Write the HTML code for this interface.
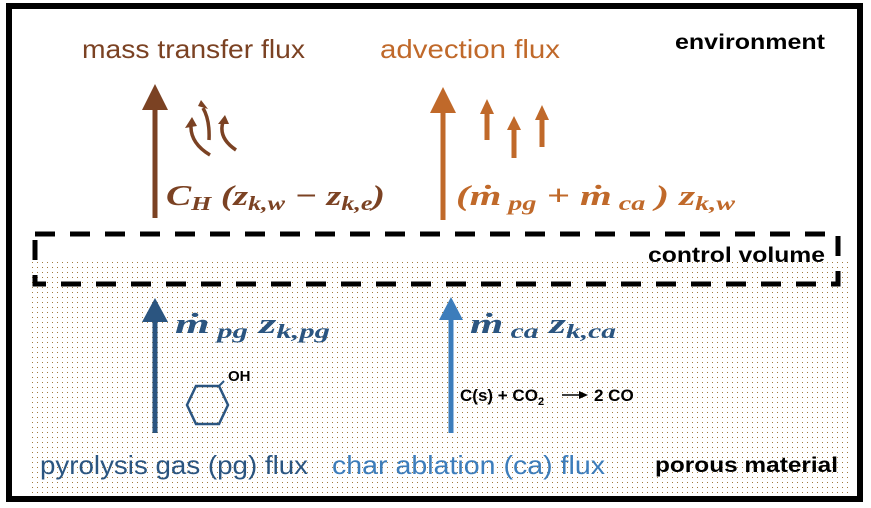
<!DOCTYPE html>
<html><head><meta charset="utf-8"><style>
html,body{margin:0;padding:0;background:#fff;}
svg{display:block;}
.s{font-family:"Liberation Sans",sans-serif;}
.m{font-family:"Liberation Serif",serif;font-weight:bold;font-style:italic;}
</style></head><body>
<svg width="871" height="508" viewBox="0 0 871 508" xmlns="http://www.w3.org/2000/svg">
<defs>
<pattern id="dots" width="5" height="5" patternUnits="userSpaceOnUse">
<rect x="2" y="2" width="1" height="1" fill="#a07a40"/>
</pattern>
</defs>
<rect x="0" y="0" width="871" height="508" fill="#fff"/>
<rect x="28" y="258" width="822" height="235" fill="url(#dots)"/>
<rect x="9" y="6" width="851" height="493" fill="none" stroke="#000" stroke-width="6"/>
<rect x="35" y="234" width="803" height="50" fill="none" stroke="#000" stroke-width="5" stroke-dasharray="20,15"/>

<!-- labels -->
<text x="82" y="58" class="s" font-size="26" fill="#7B4223" textLength="223" lengthAdjust="spacingAndGlyphs">mass transfer flux</text>
<text x="380" y="58" class="s" font-size="26" fill="#C0692A" textLength="180" lengthAdjust="spacingAndGlyphs">advection flux</text>
<text x="675" y="49" class="s" font-size="21" font-weight="bold" fill="#000" textLength="150" lengthAdjust="spacingAndGlyphs">environment</text>
<text x="648" y="262" class="s" font-size="21" font-weight="bold" fill="#000" textLength="177" lengthAdjust="spacingAndGlyphs">control volume</text>
<text x="655" y="472" class="s" font-size="21" font-weight="bold" fill="#000" textLength="183" lengthAdjust="spacingAndGlyphs">porous material</text>
<text x="40" y="474" class="s" font-size="26" fill="#2B5580" textLength="268" lengthAdjust="spacingAndGlyphs">pyrolysis gas (pg) flux</text>
<text x="332" y="474" class="s" font-size="26" fill="#3D7DBB" textLength="273" lengthAdjust="spacingAndGlyphs">char ablation (ca) flux</text>

<!-- big arrows -->
<g fill="#7B4223" stroke="#7B4223">
<line x1="155" y1="218" x2="155" y2="105" stroke-width="5"/>
<polygon points="142,110 168,110 155,84" stroke="none"/>
</g>
<g fill="#C0692A" stroke="#C0692A">
<line x1="443" y1="220" x2="443" y2="108" stroke-width="5"/>
<polygon points="430,113 456,113 443,87" stroke="none"/>
<line x1="487" y1="140" x2="487" y2="112" stroke-width="5"/>
<polygon points="480,114 494,114 487,99" stroke="none"/>
<line x1="514" y1="158" x2="514" y2="128" stroke-width="5"/>
<polygon points="507,130 521,130 514,116" stroke="none"/>
<line x1="542" y1="147" x2="542" y2="118" stroke-width="5"/>
<polygon points="535,120 549,120 542,105" stroke="none"/>
</g>
<g fill="#2B5580" stroke="#2B5580">
<line x1="155" y1="433" x2="155" y2="318" stroke-width="5"/>
<polygon points="142,322 168,322 155,298" stroke="none"/>
</g>
<g fill="#3D7DBB" stroke="#3D7DBB">
<line x1="451" y1="433" x2="451" y2="316" stroke-width="5"/>
<polygon points="439,320 463,320 451,297" stroke="none"/>
</g>

<!-- curly arrows -->
<g fill="none" stroke="#7B4223" stroke-width="3.5">
<path d="M210 155 Q190 143 191 125"/>
<path d="M209 140 Q210 120 203 108"/>
<path d="M236 150 Q218 138 223 122"/>
</g>
<g fill="#7B4223">
<polygon points="185,128 197,126 192,117"/>
<polygon points="198,106 208,109 201,100"/>
<polygon points="218,124 229,124 225,115"/>
</g>

<!-- formulas -->
<text x="166" y="205" class="m" font-size="29" fill="#7B4223" textLength="219" lengthAdjust="spacingAndGlyphs">C<tspan font-size="20" dy="5">H</tspan><tspan dy="-5"> (z</tspan><tspan font-size="20" dy="5">k,w</tspan><tspan dy="-5">  − z</tspan><tspan font-size="20" dy="5">k,e</tspan><tspan dy="-5">)</tspan></text>
<text x="456" y="205" class="m" font-size="29" fill="#C0692A" textLength="279" lengthAdjust="spacingAndGlyphs">(ṁ<tspan font-size="20" dy="5"> pg</tspan><tspan dy="-5">  + ṁ</tspan><tspan font-size="20" dy="5"> ca</tspan><tspan dy="-5">  ) z</tspan><tspan font-size="20" dy="5">k,w</tspan></text>
<text x="175" y="333" class="m" font-size="29" fill="#2B5580" textLength="155" lengthAdjust="spacingAndGlyphs">ṁ<tspan font-size="20" dy="5"> pg</tspan><tspan dy="-5">  z</tspan><tspan font-size="20" dy="5">k,pg</tspan></text>
<text x="470" y="333" class="m" font-size="29" fill="#2B5580" textLength="146" lengthAdjust="spacingAndGlyphs">ṁ<tspan font-size="20" dy="5"> ca</tspan><tspan dy="-5">  z</tspan><tspan font-size="20" dy="5">k,ca</tspan></text>

<!-- hexagon -->
<polygon points="196,386 219,386 228,405 219,424 196,424 187,405" fill="none" stroke="#2B5580" stroke-width="2.5"/>
<line x1="219" y1="386" x2="224" y2="381" stroke="#2B5580" stroke-width="2"/>
<text x="228" y="381" class="s" font-size="15" font-weight="bold" fill="#000">OH</text>

<text x="460" y="401" class="s" font-size="17" font-weight="bold" fill="#000">C(s) + CO<tspan font-size="11" dy="4">2</tspan></text>
<line x1="562" y1="395" x2="582" y2="395" stroke="#000" stroke-width="1.5"/>
<polygon points="579,391 588,395 579,399" fill="#000"/>
<text x="594" y="401" class="s" font-size="17" font-weight="bold" fill="#000">2 CO</text>
</svg>
</body></html>
